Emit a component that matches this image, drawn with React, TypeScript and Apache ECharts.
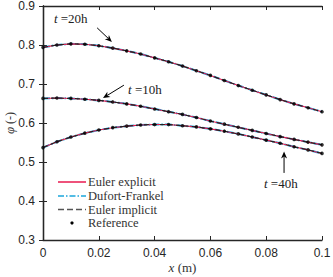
import React, { useEffect, useRef } from "react";
import * as echarts from "echarts";

const xValues = [0, 0.005, 0.01, 0.015, 0.02, 0.025, 0.03, 0.035, 0.04, 0.045, 0.05, 0.055, 0.06, 0.065, 0.07, 0.075, 0.08, 0.085, 0.09, 0.095, 0.1];
const phi20h = [0.794, 0.8, 0.803, 0.802, 0.798, 0.792, 0.785, 0.777, 0.767, 0.757, 0.746, 0.734, 0.722, 0.709, 0.696, 0.684, 0.672, 0.66, 0.649, 0.639, 0.629];
const phi10h = [0.663, 0.664, 0.663, 0.661, 0.658, 0.654, 0.649, 0.643, 0.636, 0.629, 0.622, 0.614, 0.605, 0.597, 0.589, 0.581, 0.573, 0.565, 0.558, 0.551, 0.544];
const phi40h = [0.537, 0.552, 0.564, 0.574, 0.582, 0.588, 0.592, 0.595, 0.596, 0.596, 0.593, 0.59, 0.585, 0.579, 0.572, 0.564, 0.556, 0.548, 0.539, 0.531, 0.522];
const curves = [phi20h, phi10h, phi40h];

const methodNames = ["Euler explicit", "Dufort-Frankel", "Euler implicit", "Reference"];

// annotations: label, text anchor [x, phi], arrow tail [x, phi], arrow head [x, phi]
const annoLabels = ["20h", "10h", "40h"];
const annoText = [[0.0118, 0.867], [0.0305, 0.685], [0.0792, 0.446]];
const annoTail = [[0.0194, 0.844], [0.029, 0.697], [0.0864, 0.472]];
const annoHead = [[0.0247, 0.808], [0.0215, 0.664], [0.0864, 0.527]];

const RED = "#e8194f";
const CYAN = "#1ba6dc";
const DARK = "#262626";
const SERIF = "'Liberation Serif', 'Times New Roman', serif";
const SANS = "'Liberation Sans', Arial, sans-serif";

export default function App() {
  const ref = useRef<HTMLDivElement>(null);
  useEffect(() => {
    if (!ref.current) return;
    const chart = echarts.init(ref.current, undefined, { renderer: "svg" });
    const series: any[] = [];
    curves.forEach((c) => {
      const data = xValues.map((x, i) => [x, c[i]]);
      series.push({ type: "line", name: methodNames[1], data, showSymbol: false, lineStyle: { color: CYAN, width: 2, type: [7, 2, 1.5, 2] }, z: 2 });
      series.push({ type: "line", name: methodNames[0], data, showSymbol: false, lineStyle: { color: RED, width: 1.1 }, z: 3 });
      series.push({ type: "line", name: methodNames[2], data, showSymbol: false, lineStyle: { color: "#222", width: 1.2, type: [5, 3] }, z: 4 });
      series.push({ type: "scatter", name: methodNames[3], data, symbol: "circle", symbolSize: 3.6, itemStyle: { color: "#000" }, z: 5 });
    });

    const axisLine = { show: true, lineStyle: { color: DARK, width: 1.3 } };
    const axisTick = { show: true, inside: true, length: 4, lineStyle: { color: DARK, width: 1 } };

    chart.setOption({
      animation: false,
      grid: { left: 43, right: 11, top: 6, bottom: 37, containLabel: false, outerBoundsMode: "none" },
      xAxis: [
        {
          type: "value", min: 0, max: 0.1, interval: 0.02, position: "bottom",
          axisLine, axisTick, splitLine: { show: false },
          axisLabel: { color: DARK, fontFamily: SANS, fontSize: 12, margin: 7, formatter: (v: number) => (v === 0 ? "0" : Math.abs(v - 0.1) < 1e-9 ? "0.1" : v.toFixed(2)) },
          name: "{i|x} (m)", nameLocation: "middle", nameGap: 21, nameMoveOverlap: false,
          nameTextStyle: { color: "#333", fontFamily: SERIF, fontSize: 13, rich: { i: { fontStyle: "italic", fontFamily: SERIF, fontSize: 13, color: "#333" } } },
        },
        { type: "value", min: 0, max: 0.1, interval: 0.02, position: "top", axisLine, axisTick, axisLabel: { show: false }, splitLine: { show: false } },
      ],
      yAxis: [
        {
          type: "value", min: 0.3, max: 0.9, interval: 0.1, position: "left",
          axisLine, axisTick, splitLine: { show: false },
          axisLabel: { color: DARK, fontFamily: SANS, fontSize: 12, margin: 8, formatter: (v: number) => v.toFixed(1) },
          name: "{i|φ} (-)", nameLocation: "middle", nameGap: 27, nameMoveOverlap: false,
          nameTextStyle: { color: "#333", fontFamily: SERIF, fontSize: 12, rich: { i: { fontStyle: "italic", fontFamily: SERIF, fontSize: 13, color: "#333" } } },
        },
        { type: "value", min: 0.3, max: 0.9, interval: 0.1, position: "right", axisLine, axisTick, axisLabel: { show: false }, splitLine: { show: false } },
      ],
      series,
    });

    const px = (p: number[]) => chart.convertToPixel({ xAxisIndex: 0, yAxisIndex: 0 }, p) as number[];
    const graphic: any[] = [];
    annoLabels.forEach((lab, k) => {
      const t = px(annoText[k]);
      const a = px(annoTail[k]);
      const h = px(annoHead[k]);
      const dx = h[0] - a[0], dy = h[1] - a[1];
      const len = Math.hypot(dx, dy);
      const ux = dx / len, uy = dy / len;
      const hl = 7, hw = 3;
      const bx = h[0] - ux * hl, by = h[1] - uy * hl;
      const nx = bx + ux * 2, ny = by + uy * 2;
      graphic.push({ type: "line", silent: true, shape: { x1: a[0], y1: a[1], x2: nx, y2: ny }, style: { stroke: "#000", lineWidth: 1 }, z: 100 });
      graphic.push({
        type: "polygon", silent: true,
        shape: { points: [[h[0], h[1]], [bx - uy * hw, by + ux * hw], [nx, ny], [bx + uy * hw, by - ux * hw]] },
        style: { fill: "#000" }, z: 100,
      });
      graphic.push({
        type: "text", silent: true, x: k === 0 ? t[0] - 22 : t[0], y: t[1], z: 100,
        style: {
          text: "{i|t} {n|=" + lab + "}", verticalAlign: "middle", fill: "#222",
          font: "13px " + SERIF,
          rich: { i: { fontStyle: "italic", fontFamily: SERIF, fontSize: 13, fill: "#222" }, n: { fontFamily: SERIF, fontSize: 13, fill: "#222" } },
        },
      });
    });

    // legend
    const legX1 = 58, legX2 = 86, legTxt = 88;
    const rows = [182, 196, 209.5, 223];
    graphic.push({ type: "line", silent: true, shape: { x1: legX1, y1: rows[0], x2: legX2, y2: rows[0] }, style: { stroke: RED, lineWidth: 1.5 }, z: 100 });
    graphic.push({ type: "line", silent: true, shape: { x1: legX1, y1: rows[1], x2: legX2, y2: rows[1] }, style: { stroke: CYAN, lineWidth: 1.5, lineDash: [6, 2, 1.5, 2] }, z: 100 });
    graphic.push({ type: "line", silent: true, shape: { x1: legX1, y1: rows[2], x2: legX2, y2: rows[2] }, style: { stroke: "#555", lineWidth: 1.3, lineDash: [6, 3] }, z: 100 });
    graphic.push({ type: "circle", silent: true, shape: { cx: (legX1 + legX2) / 2, cy: rows[3], r: 1.6 }, style: { fill: "#000" }, z: 100 });
    methodNames.forEach((n, i) => {
      graphic.push({ type: "text", silent: true, x: legTxt, y: rows[i], z: 100, style: { text: n, font: "12.5px " + SERIF, fill: "#333", verticalAlign: "middle" } });
    });

    chart.setOption({ graphic });
    return () => chart.dispose();
  }, []);
  return <div ref={ref} style={{ width: 333, height: 277, position: "absolute", left: 0, top: 0 }} />;
}
